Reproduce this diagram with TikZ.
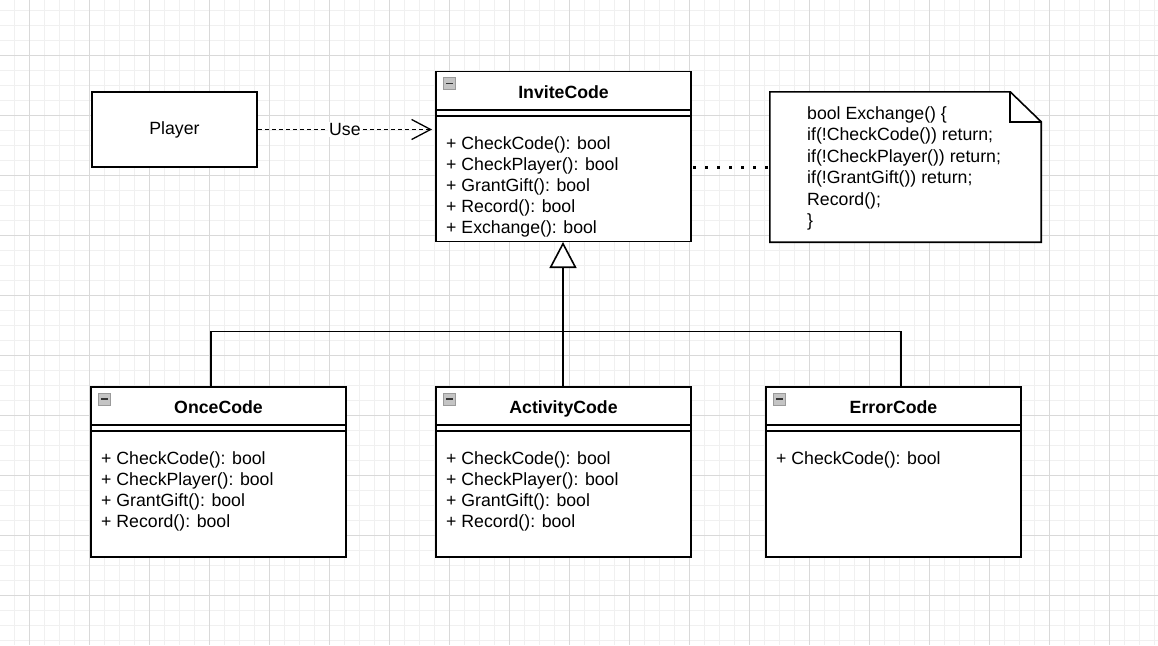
\documentclass[tikz,border=0pt]{standalone}
\usepackage{fontspec}
\setmainfont{Liberation Sans}
\usetikzlibrary{arrows.meta,calc}
\definecolor{gridmajor}{HTML}{D9D9D9}
\definecolor{gridminor}{HTML}{F0F0F0}
\definecolor{iconfill}{HTML}{C4C4C4}
\definecolor{iconline}{HTML}{9A9A9A}
\tikzset{
  txt/.style={font=\fontsize{17.7}{21}\selectfont},
  classbox/.style={draw=black,line width=1.6pt,fill=white,minimum width=255pt,minimum height=170pt,inner sep=0pt},
  plainbox/.style={draw=black,line width=1.6pt,fill=white,minimum width=165pt,minimum height=75pt,inner sep=0pt,txt},
  title/.style={font=\fontsize{17.7}{21}\selectfont\bfseries,anchor=base,inner sep=0pt},
  members/.style={txt,align=left,anchor=north west,inner sep=0pt},
  sepline/.style={line width=1.6pt},
  conn/.style={line width=1.6pt,black},
  icon/.style={draw=iconline,fill=iconfill,line width=1pt,minimum size=12pt,inner sep=0pt},
}
\newcommand{\classicon}[2]{%
  \node[icon] (#1) at (#2) {};
  \draw[line width=1.8pt,black!80] ($(#1.center)+(-3.5,0)$) -- ($(#1.center)+(3.5,0)$);
}
\newcommand{\classseps}[1]{%
  \draw[sepline] ($(#1.north west)+(0,39)$) -- ($(#1.north east)+(0,39)$);
  \draw[sepline] ($(#1.north west)+(0,45)$) -- ($(#1.north east)+(0,45)$);
}
\begin{document}
\begin{tikzpicture}[x=1pt,y=-1pt]
\useasboundingbox (0,0) rectangle (1158,645);
\fill[white] (0,0) rectangle (1158,645);
% grid
\begin{scope}
\clip (0,0) rectangle (1158,645);
\foreach \i in {0,...,77} {\draw[gridminor,line width=1pt] ({14+15*\i},0) -- ({14+15*\i},645);}
\foreach \i in {0,...,43} {\draw[gridminor,line width=1pt] (0,{10+15*\i}) -- (1158,{10+15*\i});}
\foreach \i in {0,...,19} {\draw[gridmajor,line width=1pt] ({29+60*\i},0) -- ({29+60*\i},645);}
\foreach \i in {-1,...,10} {\draw[gridmajor,line width=1pt] (0,{55+60*\i}) -- (1158,{55+60*\i});}
\end{scope}

% Player
\node[plainbox] (player) at (174.5,129.5) {Player};

% InviteCode
\node[classbox] (invite) at (563.5,156.5) {};
\classseps{invite}
\classicon{inviteicon}{449.5,83.5}
\node[title] (invitet) at (563.5,98.5) {InviteCode};
\node[members] (invitem) at (446,136.5) {+ CheckCode(): bool\\+ CheckPlayer(): bool\\+ GrantGift(): bool\\+ Record(): bool\\+ Exchange(): bool};

% Note
\node[minimum width=271pt,minimum height=150pt,inner sep=0pt] (note) at (905.5,167) {};
\draw[line width=1.6pt,fill=white] (note.north west) -- ($(note.north east)+(-31,0)$) -- ($(note.north east)+(0,30)$) -- (note.south east) -- (note.south west) -- cycle;
\draw[line width=1.6pt] ($(note.north east)+(-31,0)$) -- ($(note.north east)+(-31,30)$) -- ($(note.north east)+(0,30)$);
\node[members,font=\fontsize{17.7}{21.4}\selectfont] (notet) at (807,106.5) {bool Exchange() \{\\if(!CheckCode()) return;\\if(!CheckPlayer()) return;\\if(!GrantGift()) return;\\Record();\\\}};

% Subclasses
\node[classbox] (once) at (218.5,472) {};
\classseps{once}
\classicon{onceicon}{104.5,399}
\node[title] (oncet) at (218.5,413.5) {OnceCode};
\node[members] (oncem) at (101,451.5) {+ CheckCode(): bool\\+ CheckPlayer(): bool\\+ GrantGift(): bool\\+ Record(): bool};

\node[classbox] (activity) at (563.5,472) {};
\classseps{activity}
\classicon{activityicon}{449.5,399}
\node[title] (activityt) at (563.5,413.5) {ActivityCode};
\node[members] (activitym) at (446,451.5) {+ CheckCode(): bool\\+ CheckPlayer(): bool\\+ GrantGift(): bool\\+ Record(): bool};

\node[classbox] (error) at (893.5,472) {};
\classseps{error}
\classicon{erroricon}{779.5,399}
\node[title] (errort) at (893.5,413.5) {ErrorCode};
\node[members] (errorm) at (776,451.5) {+ CheckCode(): bool};

% connectors
\coordinate (usetip) at (432,129.5);
\draw[conn,line width=1.3pt,dash pattern=on 4pt off 3pt,-{Straight Barb[length=19pt,width=20pt,line width=1.3pt]}] (player.east) -- node[txt,fill=white,inner sep=1pt] (uselabel) {Use} (usetip);

\coordinate (dotstart) at (693,167.5);
\coordinate (dotend) at (770,167.5);
\draw[line width=3pt,dash pattern=on 3pt off 9pt] (dotstart) -- (dotend);

\coordinate (activitytop) at (563,387);
\coordinate (invitebottom) at (563,242);
\coordinate (oncetop) at (211,387);
\coordinate (errortop) at (901,387);
\coordinate (junction) at (563,331.5);
\draw[conn,line width=1.6pt] (oncetop) |- (junction) -| (errortop);
\draw[conn,line width=1.6pt,-{Triangle[open,length=26pt,width=27pt,line width=1.6pt,fill=white]}] (activitytop) -- (invitebottom);
\end{tikzpicture}
\end{document}
